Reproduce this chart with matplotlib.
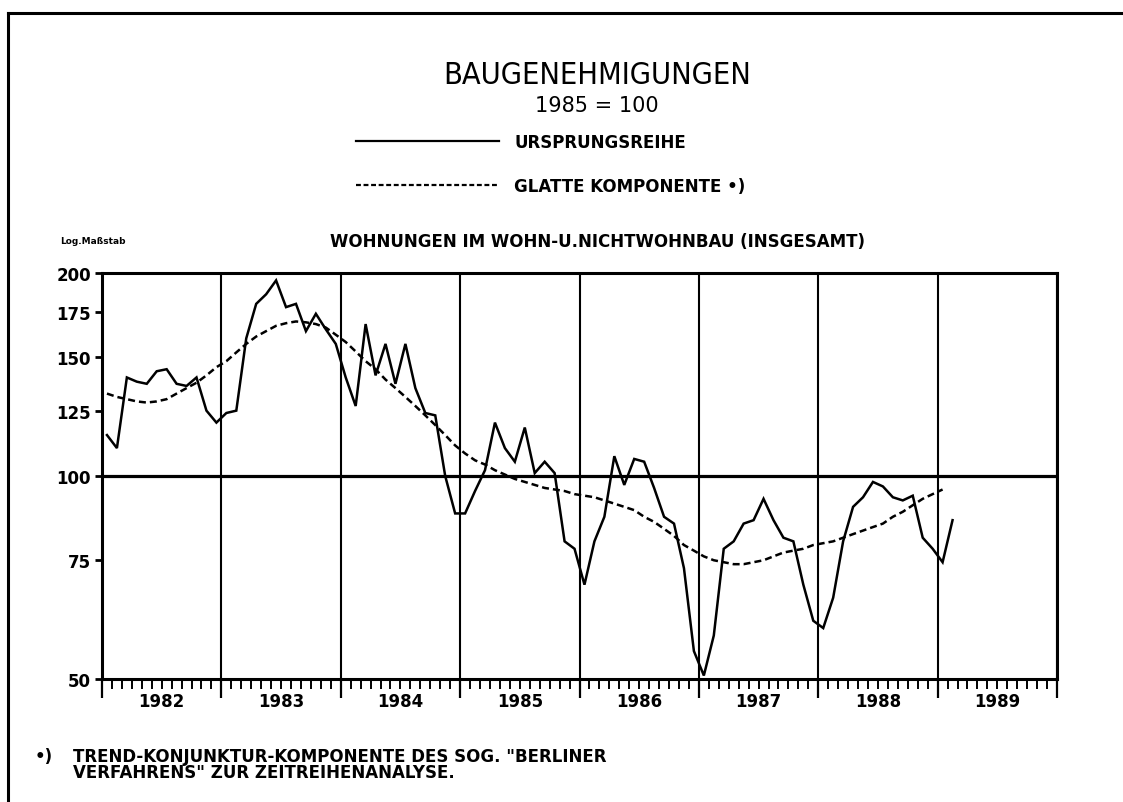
import matplotlib
matplotlib.use("Agg")
import matplotlib.pyplot as plt
import numpy as np
from matplotlib.lines import Line2D
from matplotlib.ticker import FixedLocator, NullFormatter, NullLocator
import matplotlib.transforms as mtransforms

# Indexwerte 1985 = 100, monatlich ab Januar 1982
ursprung = [
    115, 110, 140, 138, 137, 143, 144, 137, 136, 140, 125, 120,   # 1982
    124, 125, 160, 180, 186, 195, 178, 180, 164, 174, 165, 157,   # 1983
    140, 127, 168, 141, 157, 137, 157, 135, 124, 123, 100, 88,    # 1984
    88, 95, 102, 120, 110, 105, 118, 101, 105, 101, 80, 78,       # 1985
    69, 80, 87, 107, 97, 106, 105, 96, 87, 85, 73, 55,            # 1986
    50.6, 58, 78, 80, 85, 86, 92.5, 86, 81, 80, 69, 61,           # 1987
    59.5, 66, 80, 90, 93, 98, 96.5, 93, 92, 93.5, 81, 78,         # 1988
    74.5, 86,                                                     # 1989
]
glatt = [
    132.5, 131, 130, 129, 128.5, 129, 130, 132.5, 135, 137.5, 141, 145,
    148, 152.5, 157, 161, 164, 167, 168.5, 169.5, 169, 168, 166, 162,
    158, 153, 148, 144, 139, 135, 131, 127, 123, 119, 115, 111,
    108, 105.5, 104, 102, 100.5, 99, 98, 97, 96, 95.5, 95, 94,
    93.5, 93, 92, 91, 90, 89, 87, 85.5, 83.5, 81.5, 79, 77.5,
    76, 75, 74.5, 74, 74, 74.5, 75, 76, 77, 77.5, 78, 79,
    79.5, 80, 81, 82, 83, 84, 85, 87, 88.5, 90.5, 92.5, 94,
    95.5,
]
jahre = [1982, 1983, 1984, 1985, 1986, 1987, 1988, 1989]
yticks = [50, 75, 100, 125, 150, 175, 200]

# Monatsmitte als x-Position
x1 = 1982 + (np.arange(len(ursprung)) + 0.5) / 12
x2 = 1982 + (np.arange(len(glatt)) + 0.5) / 12

W, H = 1123, 803
fig = plt.figure(figsize=(W / 100, H / 100), dpi=100)
ax = fig.add_axes([102 / W, 1 - 680 / H, (1057 - 102) / W, (680 - 274) / H])

l1, = ax.plot(x1, ursprung, color='black', lw=1.8, solid_joinstyle='miter', label='URSPRUNGSREIHE')
l2, = ax.plot(x2, glatt, color='black', lw=1.8, linestyle=(0, (2.8, 1.6)), label='GLATTE KOMPONENTE •)')
ax.axhline(100, color='black', lw=2.3)

ax.set_yscale('log')
ax.set_ylim(50, 200)
ax.set_xlim(1982, 1990)
ax.yaxis.set_major_locator(FixedLocator(yticks))
ax.yaxis.set_minor_locator(NullLocator())
ax.set_yticklabels([str(v) for v in yticks])
ax.tick_params(axis='y', direction='out', length=5, width=2, pad=3, labelsize=12)
for t in ax.get_yticklabels():
    t.set_fontweight('bold')

ax.xaxis.set_major_locator(FixedLocator(range(1982, 1991)))
ax.xaxis.set_major_formatter(NullFormatter())
ax.xaxis.set_minor_locator(FixedLocator(1982 + np.arange(97) / 12))
ax.tick_params(axis='x', which='major', direction='out', length=14, width=1.6)
ax.tick_params(axis='x', which='minor', direction='out', length=7, width=1.4)
ax.grid(axis='x', which='major', color='black', lw=1.5)

for s in ax.spines.values():
    s.set_linewidth(2.2)

trans = mtransforms.blended_transform_factory(ax.transData, ax.transAxes)
for j in jahre:
    ax.text(j + 0.5, -0.054, str(j), transform=trans, ha='center', va='center',
            fontsize=12, fontweight='bold')

# Texte
fig.text(597 / W, 1 - 76 / H, 'BAUGENEHMIGUNGEN', ha='center', va='center', fontsize=22,
         family='DejaVu Sans', fontstretch='condensed')
fig.text(597 / W, 1 - 106 / H, '1985 = 100', ha='center', va='center', fontsize=15)
fig.text(60 / W, 1 - 242 / H, 'Log.Maßstab', ha='left', va='center', fontsize=6.5, fontweight='bold')
fig.text(597 / W, 1 - 242 / H, 'WOHNUNGEN IM WOHN-U.NICHTWOHNBAU (INSGESAMT)',
         ha='center', va='center', fontsize=12, fontweight='bold')
fig.text(35 / W, 1 - 757 / H, '•)', ha='left', va='center', fontsize=12, fontweight='bold')
fig.text(73 / W, 1 - 757 / H, 'TREND-KONJUNKTUR-KOMPONENTE DES SOG. "BERLINER',
         ha='left', va='center', fontsize=12, fontweight='bold')
fig.text(73 / W, 1 - 773 / H, 'VERFAHRENS" ZUR ZEITREIHENANALYSE.',
         ha='left', va='center', fontsize=12, fontweight='bold')

leg = fig.legend(handles=[l1, l2], loc='upper left', bbox_to_anchor=(356 / W, 1 - 134 / H),
                 frameon=False, handlelength=8.6, handletextpad=0.9, labelspacing=1.55,
                 borderpad=0, borderaxespad=0, prop={'size': 12, 'weight': 'bold'})
leg.get_lines()[0].set_linewidth(1.6)
leg.get_lines()[1].set_linewidth(1.6)
leg.get_lines()[1].set_dashes((2.2, 1.2))

# Rahmen
fig.add_artist(Line2D([8 / W, 1], [1 - 14 / H, 1 - 14 / H], color='black', lw=2.2))
fig.add_artist(Line2D([8 / W, 8 / W], [1 - 14 / H, 0], color='black', lw=2.2))

fig.savefig('out.png', dpi=100, facecolor='white')
